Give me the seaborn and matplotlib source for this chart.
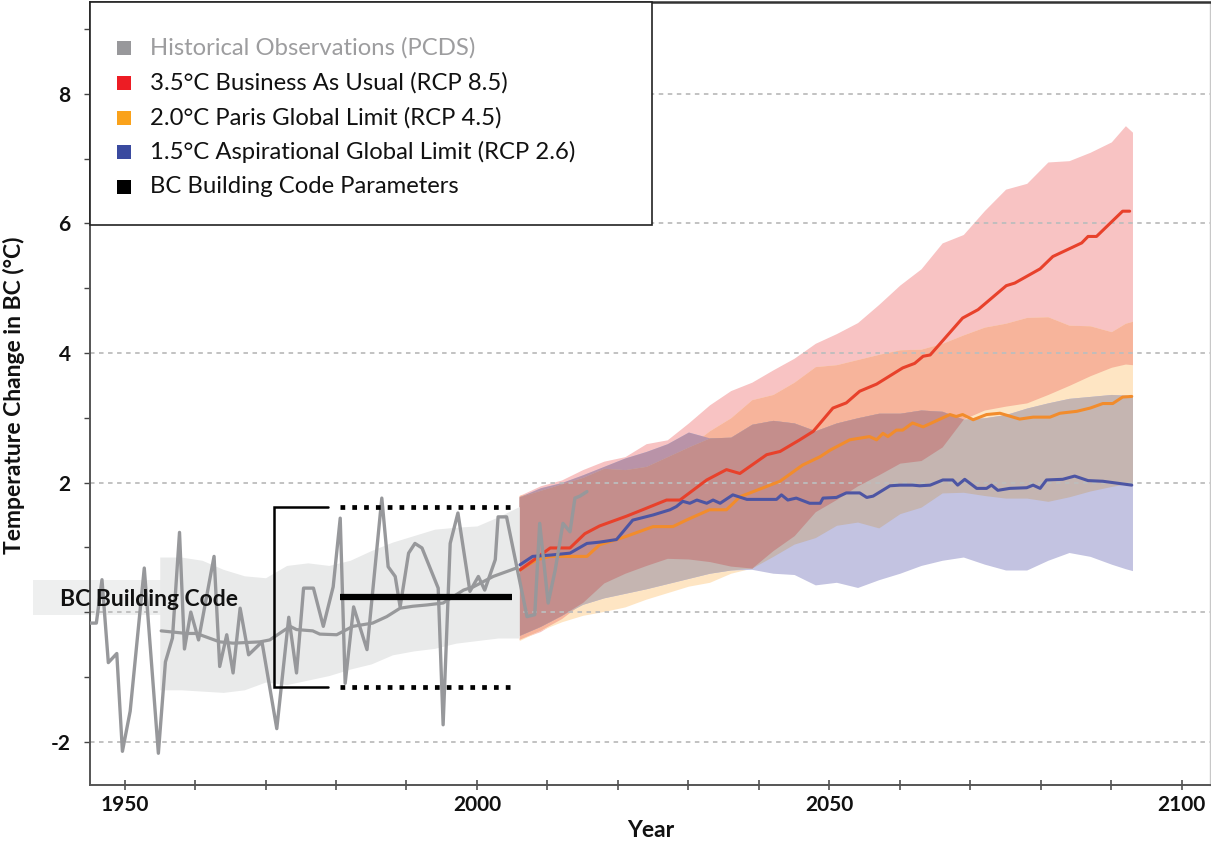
import numpy as np
import matplotlib
matplotlib.use("Agg")
import matplotlib.pyplot as plt
import seaborn as sns
from matplotlib.patches import Rectangle
from matplotlib.ticker import MultipleLocator, FixedLocator, FuncFormatter

obs_year = [1945.1, 1946.0, 1946.8, 1947.7, 1948.9, 1949.7, 1950.8, 1952.8, 1954.8, 1955.8,
            1956.8, 1957.8, 1958.5, 1959.4, 1960.5, 1962.7, 1963.5, 1964.5, 1965.4, 1966.4,
            1967.6, 1969.5, 1971.6, 1973.3, 1974.4, 1975.4, 1976.8, 1978.2, 1979.6, 1980.6,
            1981.3, 1982.5, 1984.4, 1986.5, 1987.4, 1988.4, 1989.1, 1990.3, 1991.2, 1992.2,
            1994.5, 1995.2, 1996.2, 1997.3, 1999.0, 2000.2, 2001.1, 2002.6, 2003.0, 2004.2,
            2007.1, 2008.2, 2008.9, 2010.1, 2011.1, 2012.2, 2013.2, 2013.9, 2014.6, 2015.6]
obs_temp = [-0.17, -0.17, 0.50, -0.78, -0.64, -2.15, -1.53, 0.68, -2.18, -0.77,
            -0.40, 1.23, -0.57, 0.00, -0.43, 0.86, -0.84, -0.35, -0.94, 0.06,
            -0.66, -0.46, -1.80, -0.08, -0.94, 0.37, 0.37, -0.22, 0.39, 1.45,
            -1.10, 0.08, -0.58, 1.76, 0.70, 0.55, 0.08, 0.91, 1.06, 0.99,
            0.37, -1.74, 1.06, 1.53, 0.32, 0.55, 0.34, 0.81, 1.47, 1.47,
            -0.07, -0.04, 1.37, 0.14, 0.65, 1.37, 1.24, 1.76, 1.79, 1.86]

# historical model mean and range
hist_mean_year = [1955.2, 1958.8, 1960.2, 1963.5, 1965.4, 1969.2, 1970.6, 1973.5, 1974.4, 1976.7,
                  1977.7, 1980.1, 1982.4, 1985.2, 1987.2, 1989.1, 1990.9, 1992.9, 1995.2, 1998.1,
                  1999.5, 2002.3, 2005.6]
hist_mean = [-0.29, -0.33, -0.33, -0.46, -0.48, -0.46, -0.43, -0.22, -0.27, -0.29,
             -0.34, -0.35, -0.22, -0.17, -0.07, 0.06, 0.09, 0.11, 0.14, 0.34,
             0.39, 0.55, 0.68]
hist_band_year = [1955, 1958, 1961, 1964, 1967, 1970, 1973, 1976, 1979, 1982,
                  1985, 1988, 1991, 1994, 1997, 2000, 2003, 2006]
hist_hi = [0.85, 0.85, 0.80, 0.66, 0.56, 0.53, 0.72, 0.76, 0.72, 0.80,
           0.95, 1.08, 1.18, 1.28, 1.31, 1.33, 1.47, 1.63]
hist_lo = [-1.20, -1.20, -1.22, -1.24, -1.20, -1.08, -1.12, -1.05, -0.98, -0.88,
           -0.80, -0.66, -0.60, -0.56, -0.48, -0.44, -0.40, -0.40]

# projection ranges (shared years)
proj_year = [2006, 2009, 2012, 2015, 2018, 2021, 2024, 2027, 2030, 2033, 2036, 2039, 2042,
             2045, 2048, 2051, 2054, 2057, 2060, 2063, 2066, 2069, 2072, 2075, 2078, 2081,
             2084, 2087, 2090, 2092, 2093]
red_hi = [1.80, 1.95, 2.04, 2.20, 2.33, 2.40, 2.60, 2.66, 2.92, 3.20, 3.42, 3.55, 3.74,
          3.92, 4.15, 4.30, 4.47, 4.75, 5.05, 5.30, 5.70, 5.83, 6.20, 6.53, 6.62, 6.95,
          6.97, 7.10, 7.26, 7.51, 7.41]
red_lo = [-0.42, -0.30, -0.10, 0.15, 0.45, 0.60, 0.72, 0.83, 0.82, 0.78, 0.71, 0.68, 0.95,
          1.18, 1.55, 1.74, 1.95, 2.12, 2.30, 2.34, 2.55, 2.98, 3.12, 3.18, 3.23, 3.36,
          3.50, 3.65, 3.78, 3.83, 3.82]
ora_hi = [1.80, 1.88, 1.98, 2.08, 2.22, 2.20, 2.25, 2.40, 2.55, 2.80, 3.00, 3.28, 3.36,
          3.55, 3.79, 3.82, 3.90, 3.98, 4.05, 4.06, 4.15, 4.28, 4.40, 4.46, 4.55, 4.56,
          4.43, 4.42, 4.33, 4.46, 4.49]
ora_lo = [-0.44, -0.28, -0.15, -0.05, 0.01, 0.08, 0.20, 0.30, 0.40, 0.46, 0.60, 0.68, 0.86,
          1.05, 1.15, 1.34, 1.39, 1.30, 1.52, 1.62, 1.84, 1.85, 1.80, 1.76, 1.76, 1.71,
          1.78, 1.87, 1.94, 1.98, 1.99]
blu_hi = [1.78, 1.92, 2.00, 2.12, 2.25, 2.38, 2.48, 2.60, 2.78, 2.69, 2.70, 2.90, 2.96,
          2.92, 2.80, 2.92, 3.00, 3.07, 3.07, 3.12, 3.10, 2.98, 3.00, 3.05, 3.15, 3.23,
          3.30, 3.33, 3.36, 3.35, 3.33]
blu_lo = [-0.36, -0.22, -0.05, 0.12, 0.22, 0.29, 0.36, 0.44, 0.52, 0.60, 0.65, 0.66, 0.60,
          0.58, 0.42, 0.46, 0.38, 0.50, 0.60, 0.72, 0.80, 0.85, 0.74, 0.65, 0.65, 0.80,
          0.92, 0.86, 0.74, 0.67, 0.64]

# projection means
red_mean_year = [2006.1, 2010.4, 2013.2, 2015.3, 2017.4, 2021.2, 2023.5, 2026.9, 2028.8, 2032.6,
                 2035.4, 2037.3, 2041.1, 2043.0, 2045.8, 2047.7, 2050.5, 2052.4, 2054.3, 2056.7,
                 2060.4, 2062.1, 2063.3, 2064.3, 2068.9, 2071.1, 2075.1, 2076.3, 2079.9, 2081.7,
                 2085.8, 2086.7, 2087.9, 2091.6, 2092.6]
red_mean = [0.65, 0.99, 0.99, 1.21, 1.33, 1.48, 1.58, 1.73, 1.73, 2.04,
            2.20, 2.14, 2.43, 2.48, 2.66, 2.79, 3.15, 3.23, 3.41, 3.52,
            3.77, 3.84, 3.95, 3.97, 4.54, 4.67, 5.04, 5.08, 5.30, 5.49,
            5.70, 5.80, 5.80, 6.19, 6.19]
ora_mean_year = [2006.1, 2008.5, 2010.4, 2015.6, 2017.4, 2019.8, 2021.2, 2025.0, 2027.8, 2029.7,
                 2033.0, 2035.4, 2037.3, 2043.0, 2046.2, 2048.7, 2050.1, 2052.9, 2055.7, 2056.7,
                 2057.6, 2058.3, 2059.5, 2060.4, 2061.8, 2063.3, 2067.1, 2068.0, 2068.9, 2070.4,
                 2072.3, 2074.2, 2077.0, 2078.9, 2081.3, 2082.7, 2085.1, 2087.0, 2088.8, 2090.2,
                 2091.6, 2092.9]
ora_mean = [0.65, 0.81, 0.86, 0.86, 1.04, 1.12, 1.17, 1.32, 1.32, 1.42,
            1.58, 1.58, 1.78, 2.02, 2.27, 2.40, 2.50, 2.66, 2.71, 2.66,
            2.76, 2.71, 2.81, 2.81, 2.92, 2.86, 3.05, 3.02, 3.05, 2.97,
            3.05, 3.07, 2.98, 3.01, 3.01, 3.07, 3.10, 3.15, 3.22, 3.22,
            3.32, 3.33]
blu_mean_year = [2006.1, 2007.9, 2010.4, 2013.2, 2015.6, 2017.4, 2019.8, 2022.1, 2025.0, 2027.4,
                 2028.3, 2029.2, 2030.2, 2031.2, 2032.6, 2033.5, 2034.5, 2036.3, 2038.3, 2042.5,
                 2043.2, 2044.1, 2045.3, 2047.2, 2048.7, 2049.1, 2051.0, 2052.4, 2054.3, 2055.3,
                 2056.2, 2058.6, 2060.0, 2061.8, 2062.8, 2064.3, 2066.1, 2067.5, 2068.2, 2069.2,
                 2070.9, 2072.3, 2073.0, 2073.9, 2075.6, 2078.0, 2078.9, 2079.9, 2080.8, 2083.1,
                 2084.8, 2086.7, 2088.8, 2092.9]
blu_mean = [0.73, 0.86, 0.88, 0.91, 1.06, 1.08, 1.12, 1.42, 1.50, 1.58,
            1.63, 1.71, 1.68, 1.73, 1.68, 1.73, 1.68, 1.81, 1.74, 1.74,
            1.81, 1.73, 1.76, 1.68, 1.68, 1.76, 1.77, 1.84, 1.84, 1.77,
            1.79, 1.95, 1.96, 1.96, 1.95, 1.96, 2.04, 2.04, 1.96, 2.05,
            1.91, 1.91, 1.96, 1.88, 1.91, 1.92, 1.96, 1.91, 2.04, 2.05,
            2.10, 2.03, 2.02, 1.96]

# BC building code parameters
code_hi, code_mid, code_lo = 1.62, 0.24, -1.15
bracket_years = [1971.2, 1978.9]
code_years = [1980.6, 2005.0]

legend_labels = ["Historical Observations (PCDS)",
                 "3.5°C Business As Usual (RCP 8.5)",
                 "2.0°C Paris Global Limit (RCP 4.5)",
                 "1.5°C Aspirational Global Limit (RCP 2.6)",
                 "BC Building Code Parameters"]
legend_colors = ["#98989b", "#ed1c24", "#faa21b", "#3a4a9f", "#000000"]

sns.set_theme(style="white")
plt.rcParams["font.family"] = ["Lato", "DejaVu Sans"]

W, H = 1211, 843
fig = plt.figure(figsize=(W / 100, H / 100), dpi=100)
ax = fig.add_axes([90 / W, 58 / H, 1120 / W, 783 / H])


def px(x, y):
    return x / W, 1 - y / H


# overlapping projection ranges, painted as single / pair / triple overlaps
bands = {"r": (np.array(red_lo), np.array(red_hi)),
         "o": (np.array(ora_lo), np.array(ora_hi)),
         "b": (np.array(blu_lo), np.array(blu_hi))}
overlaps = [("r", "#f8c3c3"), ("o", "#fee5c3"), ("b", "#c3c3e1"),
            ("ro", "#f7b49b"), ("rb", "#b993a8"), ("ob", "#c5b5b1"),
            ("rob", "#c48e8c")]
for keys, col in overlaps:
    lo = np.max([bands[k][0] for k in keys], axis=0)
    hi = np.min([bands[k][1] for k in keys], axis=0)
    ax.fill_between(proj_year, lo, hi, where=hi > lo, interpolate=True,
                    color=col, lw=0, zorder=1)

ax.fill_between(hist_band_year, hist_lo, hist_hi, color="#e9eaea", lw=0, zorder=1.7)

# label band for the building code, behind the lines
ax.add_patch(Rectangle((1937.0, -0.04), 32.5, 0.54, color="#eeefef", lw=0,
                       zorder=0.8, clip_on=False))

sns.lineplot(x=hist_mean_year, y=hist_mean, ax=ax, color="#98999b", lw=2.3,
             estimator=None, zorder=2.2)
sns.lineplot(x=ora_mean_year, y=ora_mean, ax=ax, color="#f28c2c", lw=2.2,
             estimator=None, zorder=2.3)
sns.lineplot(x=red_mean_year, y=red_mean, ax=ax, color="#e8412b", lw=2.2,
             estimator=None, zorder=2.3)
sns.lineplot(x=blu_mean_year, y=blu_mean, ax=ax, color="#4d55a3", lw=2.2,
             estimator=None, zorder=2.3)
sns.lineplot(x=obs_year, y=obs_temp, ax=ax, color="#97989b", lw=2.4,
             estimator=None, sort=False, zorder=3)

# building code bracket and range
ax.plot([bracket_years[1], bracket_years[0], bracket_years[0], bracket_years[1]],
        [code_hi, code_hi, code_lo, code_lo], color="black", lw=1.8,
        solid_joinstyle="miter", zorder=4)
for v in (code_hi, code_lo):
    ax.plot(code_years, [v, v], color="black", lw=3.4, ls=(0, (1, 1.5)),
            dash_capstyle="butt", zorder=4)
ax.plot(code_years, [code_mid, code_mid], color="black", lw=4.5,
        solid_capstyle="butt", zorder=4)
ax.text(1953.4, 0.19, "BC Building Code", fontsize=16.5, fontweight="bold",
        ha="center", va="center", color="#111111", zorder=6)

# axes
ax.set_xlim(1945.1, 2104.0)
ax.set_ylim(-2.67, 9.42)
ax.xaxis.set_major_locator(FixedLocator([1950, 2000, 2050, 2100]))
ax.xaxis.set_minor_locator(MultipleLocator(10))
ax.yaxis.set_major_locator(MultipleLocator(2))
ax.yaxis.set_minor_locator(MultipleLocator(1))
ax.yaxis.set_major_formatter(FuncFormatter(lambda v, p: "" if abs(v) < 1e-9 else f"{v:.0f}"))
ax.tick_params(axis="x", which="both", direction="inout", length=7, width=1.1,
               color="#444444", labelsize=15, pad=4, bottom=True)
ax.tick_params(axis="y", which="both", direction="out", length=4, width=1.0,
               color="#444444", labelsize=15, pad=10, left=True)
ax.grid(axis="y", which="major", color="#bdbdbd", ls=(0, (2.5, 2.5)), lw=1.3)
ax.grid(axis="x", visible=False)
ax.set_axisbelow("line")

for side in ("left", "bottom"):
    ax.spines[side].set_color("#555555")
    ax.spines[side].set_linewidth(1.4)
ax.spines["top"].set_color("#333333")
ax.spines["top"].set_linewidth(1.8)
ax.spines["right"].set_color("#c8c8c8")
ax.spines["right"].set_linewidth(1.0)

ax.set_xlabel("Year", fontsize=16.5, fontweight="bold", color="#111111")
ax.xaxis.set_label_coords(0.501, -0.045)
ax.set_ylabel("Temperature Change in BC (°C)", fontsize=16.5, fontweight="bold",
              color="#111111")
ax.yaxis.set_label_coords(-0.058, 0.498)

# legend box
x0, y0 = px(90, 225)
x1, y1 = px(652, 2)
fig.add_artist(Rectangle((x0, y0), x1 - x0, y1 - y0, transform=fig.transFigure,
                         facecolor="white", edgecolor="#222222", lw=1.2, zorder=5))
row_y = [48.3, 83.0, 117.6, 152.2, 186.8]
for i, (lab, col) in enumerate(zip(legend_labels, legend_colors)):
    sx, sy = px(117, row_y[i] + 7)
    fig.add_artist(Rectangle((sx, sy), 14 / W, 14 / H, transform=fig.transFigure,
                             facecolor=col, lw=0, zorder=6))
    tx, ty = px(150, row_y[i])
    fig.text(tx, ty, lab, fontsize=17.2, va="center", ha="left", zorder=7,
             color="#9d9d9f" if i == 0 else "#111111")

fig.canvas.draw()
plt.setp(ax.get_xticklabels() + ax.get_yticklabels(), fontweight="bold", color="#111111")
fig.savefig("out.png", dpi=100)
